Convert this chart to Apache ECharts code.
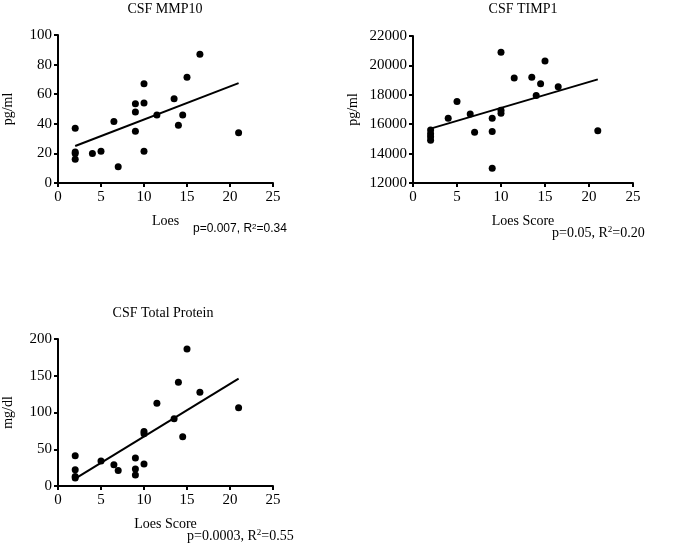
<!DOCTYPE html>
<html><head><meta charset="utf-8">
<script src="https://cdn.jsdelivr.net/npm/echarts@6/dist/echarts.min.js"></script>
<style>html,body{margin:0;padding:0;background:#fff}#c{width:689px;height:547px}</style>
</head><body><div id="c"></div><script>
// ---- data ----
const loesMMP10 = [2,2,2,2,4,5,6.5,7,9,9,9,10,10,10,11.5,13.5,14,14.5,15,16.5,21];
const mmp10     = [37,21,20,16,20,21.5,41.5,11,53.5,48,35,67,54,21.5,46,57,39,46,71.5,87,34];
const loesTIMP1 = [2,2,2,2,4,5,6.5,7,9,9,9,10,10,10,11.5,13.5,14,14.5,15,16.5,21];
const timp1     = [15600,15350,15150,14900,16400,17550,16700,15450,16400,15500,13000,20900,16950,16750,19150,19200,17950,18750,20300,18550,15550];
const loesProt  = [2,2,2,2,5,6.5,7,9,9,9,10,10,10,11.5,13.5,14,14.5,15,16.5,21];
const protein   = [41,22,13,11,34,29,21,38,23,15,74,71,30,112.5,91.5,141,67,186.5,127.5,106.5];
const fitX       = [2,21];
const fitMMP10   = [25,67.5];
const fitTIMP1   = [15700,19050];
const fitProtein = [10,146];
const titles = ['CSF MMP10','CSF TIMP1','CSF Total Protein'];
const xNames = ['Loes','Loes Score','Loes Score'];
const yNames = ['pg/ml','pg/ml','mg/dl'];
const yRanges = [[0,100,20],[12000,22000,2000],[0,200,50]];
const xRange = [0,25,5];

const serif = 'Liberation Serif';
const grids = [
  {left:54, top:35, width:219, height:148},
  {left:413, top:36, width:220, height:147},
  {left:53, top:339, width:220, height:147}
];
const yGaps = [43, 53, 43];
const axisCommon = {
  axisLine:{show:true, onZero:false, lineStyle:{color:'#000', width:2}},
  axisTick:{show:true, length:4, lineStyle:{color:'#000', width:2}},
  axisLabel:{color:'#000', fontFamily:serif, fontSize:15, margin:5, formatter:v=>String(v)},
  splitLine:{show:false},
  nameTextStyle:{color:'#000', fontFamily:serif, fontSize:14}
};
const xAxes = grids.map((g,i)=>Object.assign({}, axisCommon, {
  type:'value', gridIndex:i, min:xRange[0], max:xRange[1], interval:xRange[2],
  axisLabel:Object.assign({}, axisCommon.axisLabel, {margin:7}),
  name:xNames[i], nameLocation:'middle', nameGap:31
}));
const yAxes = grids.map((g,i)=>Object.assign({}, axisCommon, {
  type:'value', gridIndex:i, min:yRanges[i][0], max:yRanges[i][1], interval:yRanges[i][2],
  axisLabel:Object.assign({}, axisCommon.axisLabel, {margin:6}),
  name:yNames[i], nameLocation:'middle', nameGap:yGaps[i]
}));
const pts = (xs,ys)=>xs.map((x,k)=>[x,ys[k]]);
const scatters = [[loesMMP10,mmp10],[loesTIMP1,timp1],[loesProt,protein]].map((d,i)=>({
  type:'scatter', xAxisIndex:i, yAxisIndex:i, data:pts(d[0],d[1]),
  symbolSize:7, itemStyle:{color:'#000', opacity:1}, silent:true, z:3
}));
const lines = [fitMMP10,fitTIMP1,fitProtein].map((f,i)=>({
  type:'line', xAxisIndex:i, yAxisIndex:i, data:pts(fitX,f),
  symbol:'none', lineStyle:{color:'#000', width:2}, silent:true, z:2
}));
const titleOpts = [
  {text:titles[0], left:165, top:2},
  {text:titles[1], left:523, top:2},
  {text:titles[2], left:163, top:306}
].map(t=>({text:t.text, left:t.left, top:t.top, textAlign:'center', padding:0,
  textStyle:{color:'#000', fontFamily:serif, fontSize:14, fontWeight:'normal'}}));

const rich = (ff,fs)=>({
  a:{fontFamily:ff, fontSize:fs, fill:'#000'},
  s:{fontFamily:ff, fontSize:Math.round(fs*0.65), fill:'#000', verticalAlign:'top', padding:[0,0,fs*0.45,0]}
});
const annot = [
  {x:193, y:229, ff:'Liberation Sans', fs:12, t:['p=0.007, R','2','=0.34']},
  {x:552, y:233, ff:serif, fs:14, t:['p=0.05, R','2','=0.20']},
  {x:187, y:536, ff:serif, fs:14, t:['p=0.0003, R','2','=0.55']}
];
const graphics = annot.map(a=>({
  type:'text', x:a.x, y:a.y,
  style:{text:'{a|'+a.t[0]+'}{s|'+a.t[1]+'}{a|'+a.t[2]+'}', verticalAlign:'middle', rich:rich(a.ff,a.fs)}
}));

const chart = echarts.init(document.getElementById('c'), null, {renderer:'canvas'});
chart.setOption({
  animation:false, backgroundColor:'#fff',
  title:titleOpts, grid:grids, xAxis:xAxes, yAxis:yAxes,
  series:[...lines, ...scatters], graphic:graphics
});
</script></body></html>
